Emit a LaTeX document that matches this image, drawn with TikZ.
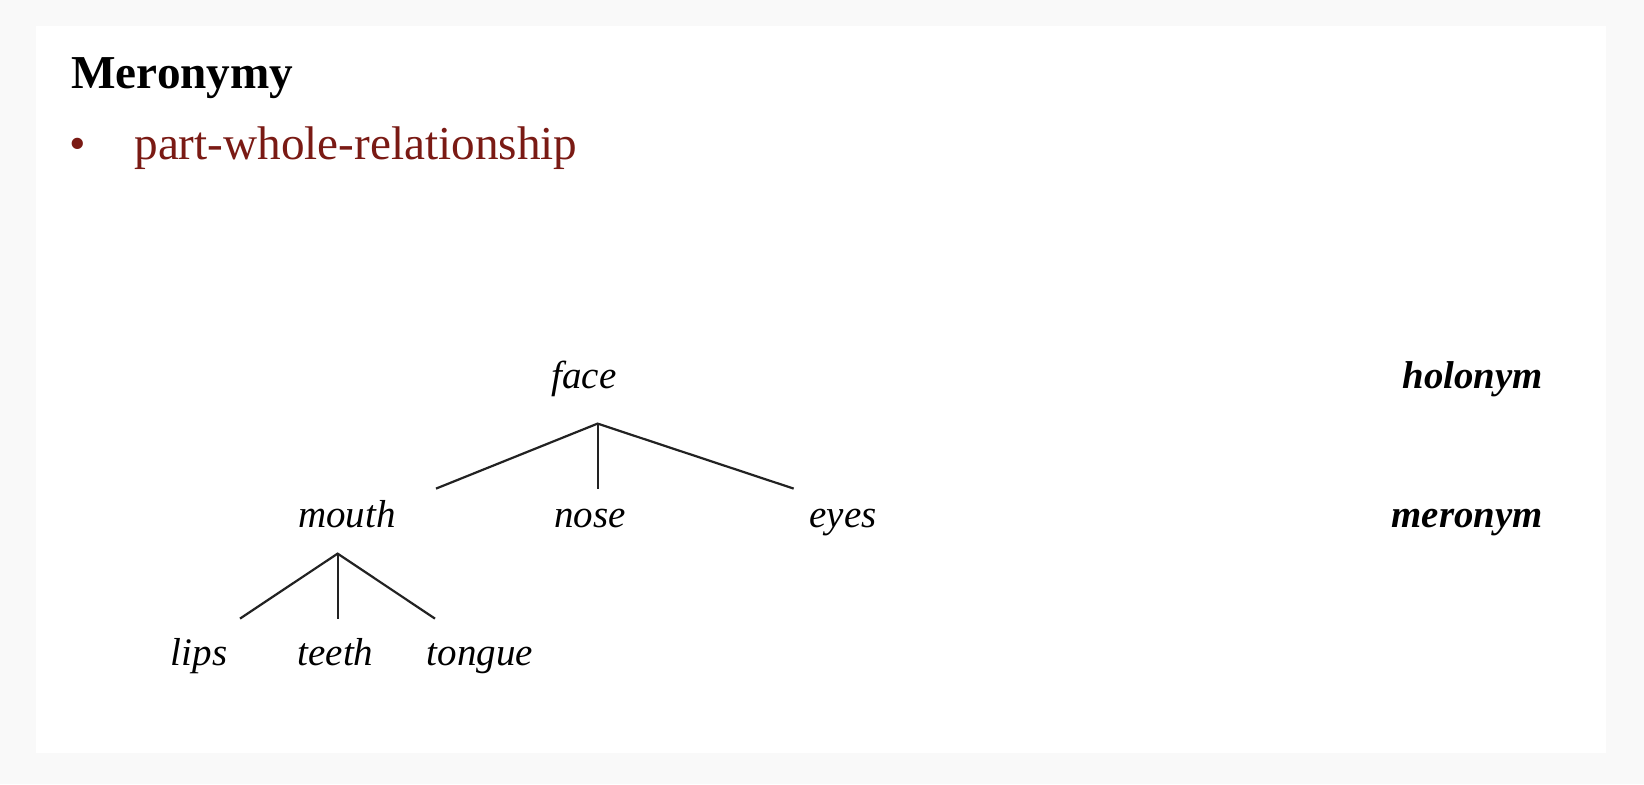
\documentclass[tikz,border=0pt]{standalone}
\usepackage{fontspec}
\setmainfont{Liberation Serif}
\definecolor{bgc}{HTML}{F9F9F9}
\definecolor{darkred}{HTML}{7A1A14}
\definecolor{linec}{HTML}{222222}
\begin{document}
\begin{tikzpicture}[x=0.5pt,y=-0.5pt,
  word/.style={inner sep=0pt, anchor=base, font=\fontsize{19.5}{22}\selectfont\itshape},
  role/.style={inner sep=0pt, anchor=base east, font=\fontsize{19.4}{22}\selectfont\bfseries\itshape},
  branch/.style={draw=linec, line width=1.1pt}]
\useasboundingbox (0,0) rectangle (1644,784);
\fill[bgc] (0,0) rectangle (1644,784);
\fill[white] (36,26) rectangle (1606,753);
% title
\node[inner sep=0pt, anchor=base west, font=\fontsize{23.6}{28}\selectfont\bfseries] (title) at (71,88.5) {Meronymy};
\node[inner sep=0pt, anchor=base, text=darkred, font=\fontsize{23.6}{28}\selectfont] (bullet) at (78,159) {•};
\node[inner sep=0pt, anchor=base west, text=darkred, font=\fontsize{23.6}{28}\selectfont] (item) at (134,159) {part-whole-relationship};
% tree words
\node[word] (face) at (584,388) {face};
\node[word] (mouth) at (347,527) {mouth};
\node[word] (nose) at (590,527) {nose};
\node[word] (eyes) at (843,527) {eyes};
\node[word] (lips) at (199,665) {lips};
\node[word] (teeth) at (335.5,665) {teeth};
\node[word] (tongue) at (480,665) {tongue};
\node[role] (holo) at (1543,388) {holonym};
\node[role] (mero) at (1543,527) {meronym};
% branch points
\coordinate (fa) at (597.6,423.6);
\coordinate (fl) at (436,488.6);
\coordinate (fm) at (597.6,488.6);
\coordinate (fr) at (793.7,488.6);
\coordinate (ma) at (337.6,553.6);
\coordinate (ml) at (240,618.6);
\coordinate (mm) at (337.6,618.6);
\coordinate (mr) at (435,618.6);
\draw[branch] (fl) -- (fa) -- (fr);
\draw[branch] (fa) -- (fm);
\draw[branch] (ml) -- (ma) -- (mr);
\draw[branch] (ma) -- (mm);
\end{tikzpicture}
\end{document}
